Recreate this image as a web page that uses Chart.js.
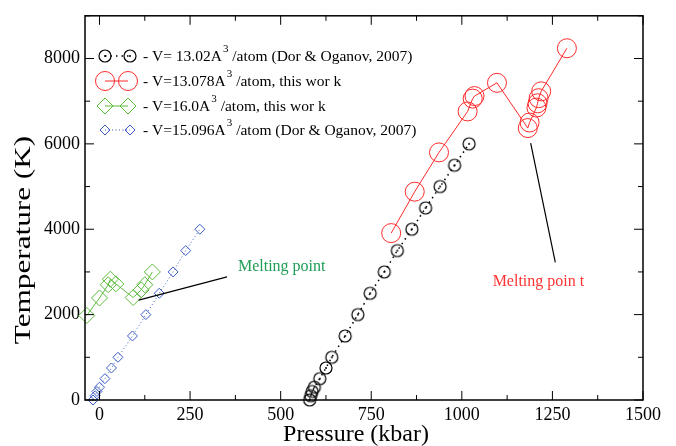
<!DOCTYPE html>
<html>
<head>
<meta charset="utf-8">
<script src="https://cdn.jsdelivr.net/npm/chart.js@4/dist/chart.umd.min.js"></script>
<style>
  html, body { margin: 0; padding: 0; background: #fff; }
  #wrap { width: 676px; height: 446px; }
</style>
</head>
<body>
<div id="wrap"><canvas id="c" width="676" height="446"></canvas></div>
<script>
// ---------- DATA ----------
const X_TICKS = [0, 250, 500, 750, 1000, 1250, 1500];
const Y_TICKS = [0, 2000, 4000, 6000, 8000];

// V = 13.02 A^3/atom (Dor & Oganov, 2007)
const BLACK_P = [580, 583, 587, 593, 608, 625, 641, 678, 713, 747, 786, 822, 862, 900, 940, 980, 1020];
const BLACK_T = [0, 100, 200, 300, 500, 750, 1000, 1500, 2000, 2500, 3000, 3500, 4000, 4500, 5000, 5500, 6000];

// V = 13.078 A^3/atom, this work
const RED_P = [805, 870, 937, 1016, 1030, 1035, 1097, 1182, 1187, 1206, 1209, 1212, 1219, 1290];
const RED_T = [3910, 4880, 5800, 6760, 7060, 7120, 7430, 6370, 6500, 6850, 6950, 7070, 7230, 8240];

// V = 16.0 A^3/atom, this work
const GREEN_P = [-35, 0, 24, 30, 45, 93, 115, 125, 146];
const GREEN_T = [1980, 2390, 2700, 2830, 2720, 2400, 2580, 2700, 3000];

// V = 15.096 A^3/atom (Dor & Oganov, 2007)
const BLUE_P = [-18, -12, -7, 0, 15, 33, 51, 91, 128, 165, 203, 238, 277];
const BLUE_T = [0, 100, 200, 300, 500, 750, 1000, 1500, 2000, 2500, 3000, 3500, 4000];

const LEGEND_LABELS = [
  ['- V= 13.02A', '3', ' /atom (Dor & Oganov, 2007)'],
  ['- V=13.078A', '3', ' /atom, this wor k'],
  ['- V=16.0A', '3', ' /atom, this wor k'],
  ['- V=15.096A', '3', ' /atom (Dor & Oganov, 2007)']
];

const SERIF = '"Liberation Serif", "Times New Roman", serif';
const C_BLACK = '#000000';
const C_RED = '#ff2a2a';
const C_GREEN = '#5cba3c';
const C_BLUE = '#3a5cc4';

function pts(xs, ys) { return xs.map((x, i) => ({ x: x, y: ys[i] })); }

// ---------- CUSTOM POINT (circle with dot) ----------
function dotCircle() {
  const cv = document.createElement('canvas');
  cv.width = 16; cv.height = 16;
  const g = cv.getContext('2d');
  g.strokeStyle = '#000'; g.lineWidth = 1.2;
  g.beginPath(); g.arc(8, 8, 6, 0, Math.PI * 2); g.stroke();
  g.fillStyle = '#000';
  g.beginPath(); g.arc(8, 8, 1, 0, Math.PI * 2); g.fill();
  return cv;
}
const DOT_CIRCLE = dotCircle();

// ---------- DRAW HELPERS ----------
function drawDiamond(ctx, x, y, r) {
  ctx.beginPath();
  ctx.moveTo(x, y - r); ctx.lineTo(x + r, y); ctx.lineTo(x, y + r); ctx.lineTo(x - r, y);
  ctx.closePath(); ctx.stroke();
}
function drawCircle(ctx, x, y, r) {
  ctx.beginPath(); ctx.arc(x, y, r, 0, Math.PI * 2); ctx.stroke();
}

const decor = {
  id: 'decor',
  afterDatasetsDraw(chart) {
    const ctx = chart.ctx;
    const a = chart.chartArea;
    const xs = chart.scales.x, ys = chart.scales.y;
    ctx.save();

    // frame
    ctx.strokeStyle = '#000';
    ctx.lineWidth = 1.5;
    ctx.strokeRect(a.left, a.top, a.right - a.left, a.bottom - a.top);

    // inward ticks, all four sides
    ctx.lineWidth = 1;
    ctx.beginPath();
    for (let v = 0; v <= 1500; v += 125) {
      const px = xs.getPixelForValue(v);
      const len = v % 250 === 0 ? 9 : 5;
      ctx.moveTo(px, a.bottom); ctx.lineTo(px, a.bottom - len);
      ctx.moveTo(px, a.top); ctx.lineTo(px, a.top + len);
    }
    for (let v = 0; v <= 9000; v += 1000) {
      const py = ys.getPixelForValue(v);
      const len = v % 2000 === 0 ? 9 : 5;
      ctx.moveTo(a.left, py); ctx.lineTo(a.left + len, py);
      ctx.moveTo(a.right, py); ctx.lineTo(a.right - len, py);
    }
    ctx.stroke();

    // melting point annotations
    ctx.strokeStyle = '#000';
    ctx.lineWidth = 1.2;
    ctx.beginPath();
    ctx.moveTo(xs.getPixelForValue(108), ys.getPixelForValue(2340));
    ctx.lineTo(xs.getPixelForValue(352), ys.getPixelForValue(2885));
    ctx.moveTo(xs.getPixelForValue(1190), ys.getPixelForValue(6020));
    ctx.lineTo(xs.getPixelForValue(1258), ys.getPixelForValue(3225));
    ctx.stroke();

    ctx.font = '16px ' + SERIF;
    ctx.textBaseline = 'middle';
    ctx.textAlign = 'left';
    ctx.fillStyle = '#1f9d55';
    ctx.fillText('Melting point', xs.getPixelForValue(382), ys.getPixelForValue(3116));
    ctx.fillStyle = '#ff3333';
    ctx.fillText('Melting poin t', xs.getPixelForValue(1085), ys.getPixelForValue(2767));

    // legend
    const rows = [56, 81, 106, 130];
    rows.forEach((ry, i) => {
      ctx.setLineDash([]);
      if (i === 0) {
        ctx.strokeStyle = C_BLACK; ctx.lineWidth = 1.5; ctx.setLineDash([1.5, 4]);
        ctx.beginPath(); ctx.moveTo(105, ry); ctx.lineTo(130, ry); ctx.stroke();
        ctx.setLineDash([]);
        ctx.drawImage(DOT_CIRCLE, 105 - 8, ry - 8);
        ctx.drawImage(DOT_CIRCLE, 130 - 8, ry - 8);
      } else if (i === 1) {
        ctx.strokeStyle = C_RED; ctx.lineWidth = 1;
        ctx.beginPath(); ctx.moveTo(105, ry); ctx.lineTo(128, ry); ctx.stroke();
        drawCircle(ctx, 105, ry, 9.5); drawCircle(ctx, 128, ry, 9.5);
      } else if (i === 2) {
        ctx.strokeStyle = C_GREEN; ctx.lineWidth = 1;
        ctx.beginPath(); ctx.moveTo(105, ry); ctx.lineTo(128, ry); ctx.stroke();
        drawDiamond(ctx, 105, ry, 8); drawDiamond(ctx, 128, ry, 8);
      } else {
        ctx.strokeStyle = C_BLUE; ctx.lineWidth = 1; ctx.setLineDash([1, 2.5]);
        ctx.beginPath(); ctx.moveTo(105, ry); ctx.lineTo(130, ry); ctx.stroke();
        ctx.setLineDash([]);
        drawDiamond(ctx, 105, ry, 5); drawDiamond(ctx, 130, ry, 5);
      }
      const lab = LEGEND_LABELS[i];
      let tx = 143;
      ctx.fillStyle = '#000';
      ctx.font = '15.5px ' + SERIF;
      ctx.fillText(lab[0], tx, ry + 1);
      tx += ctx.measureText(lab[0]).width + 1;
      ctx.font = '11px ' + SERIF;
      ctx.fillText(lab[1], tx, ry - 7);
      tx += ctx.measureText(lab[1]).width;
      ctx.font = '15.5px ' + SERIF;
      ctx.fillText(lab[2], tx, ry + 1);
    });

    // axis titles
    ctx.fillStyle = '#000';
    ctx.font = '24px ' + SERIF;
    ctx.textAlign = 'center';
    ctx.textBaseline = 'alphabetic';
    ctx.fillText('Pressure (kbar)', 356, 441);
    ctx.save();
    ctx.translate(30, 240);
    ctx.rotate(-Math.PI / 2);
    ctx.scale(1.3, 1);
    ctx.fillText('Temperature (K)', 0, 0);
    ctx.restore();

    ctx.restore();
  }
};

// ---------- CHART ----------
new Chart(document.getElementById('c'), {
  type: 'scatter',
  data: {
    datasets: [
      {
        label: 'V= 13.02A3/atom (Dor & Oganov, 2007)',
        data: pts(BLACK_P, BLACK_T),
        showLine: true, borderColor: C_BLACK, borderWidth: 1.5, borderDash: [1.5, 4],
        pointStyle: DOT_CIRCLE, clip: false
      },
      {
        label: 'V=13.078A3/atom, this work',
        data: pts(RED_P, RED_T),
        showLine: true, borderColor: C_RED, borderWidth: 1,
        pointStyle: 'circle', pointRadius: 9.5, pointBorderColor: C_RED,
        pointBackgroundColor: 'rgba(0,0,0,0)', pointBorderWidth: 1, clip: false
      },
      {
        label: 'V=16.0A3/atom, this work',
        data: pts(GREEN_P, GREEN_T),
        showLine: true, borderColor: C_GREEN, borderWidth: 1,
        pointStyle: 'rectRot', pointRadius: 8, pointBorderColor: C_GREEN,
        pointBackgroundColor: 'rgba(0,0,0,0)', pointBorderWidth: 1, clip: false
      },
      {
        label: 'V=15.096A3/atom (Dor & Oganov, 2007)',
        data: pts(BLUE_P, BLUE_T),
        showLine: true, borderColor: C_BLUE, borderWidth: 1, borderDash: [1, 2.5],
        pointStyle: 'rectRot', pointRadius: 5, pointBorderColor: C_BLUE,
        pointBackgroundColor: 'rgba(0,0,0,0)', pointBorderWidth: 1, clip: false
      }
    ]
  },
  options: {
    responsive: false,
    animation: false,
    layout: { padding: { left: 0, right: 33, top: 12, bottom: 0 } },
    plugins: { legend: { display: false }, tooltip: { enabled: false } },
    scales: {
      x: {
        type: 'linear', min: -40, max: 1500,
        afterFit(s) { s.height = 46; },
        afterBuildTicks(s) { s.ticks = X_TICKS.map(v => ({ value: v })); },
        grid: { display: false, drawTicks: false },
        border: { display: false },
        ticks: { color: '#000', padding: 4, maxRotation: 0, autoSkip: false,
                 callback: v => String(v),
                 font: { family: SERIF, size: 18 } }
      },
      y: {
        type: 'linear', min: 0, max: 9000,
        afterFit(s) { s.width = 85; },
        afterBuildTicks(s) { s.ticks = Y_TICKS.map(v => ({ value: v })); },
        grid: { display: false, drawTicks: false },
        border: { display: false },
        ticks: { color: '#000', padding: 5, autoSkip: false,
                 callback: v => String(v),
                 font: { family: SERIF, size: 18 } }
      }
    }
  },
  plugins: [decor]
});
</script>
</body>
</html>
